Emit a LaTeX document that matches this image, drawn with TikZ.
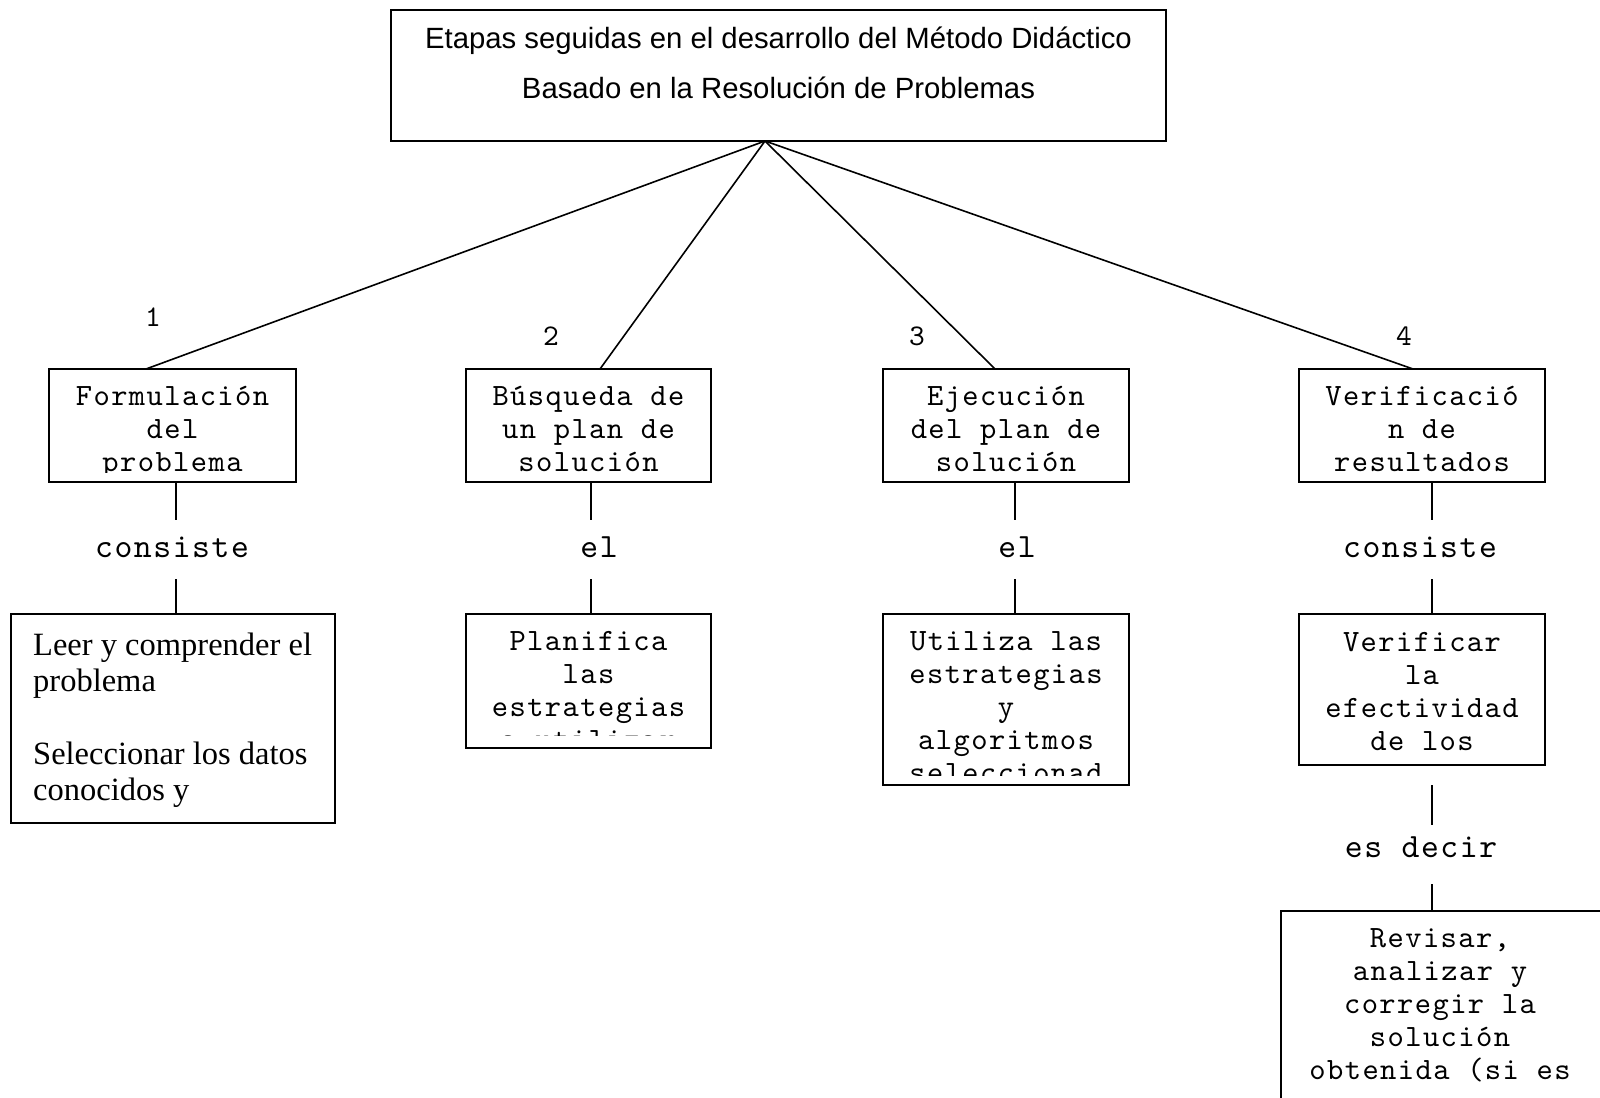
\documentclass[tikz,border=0pt]{standalone}
\usepackage{fontspec}
\setmainfont{Liberation Serif}
\newfontfamily\arialfam{Liberation Sans}
\newfontfamily\courfam{lmmono10-regular.otf}[LetterSpace=4.6]
\begin{document}
\begin{tikzpicture}[x=1pt,y=-1pt,
  frame/.style={draw=black, line width=1.6pt, rectangle, inner sep=0pt, outer sep=0pt, anchor=north west},
  link/.style={draw=black, line width=1.6pt},
  titletxt/.style={font=\arialfam\fontsize{29.3}{35}\selectfont, inner sep=0pt, anchor=base},
  stagetxt/.style={font=\courfam\fontsize{31}{33}\selectfont, inner sep=0pt, anchor=base},
  numtxt/.style={font=\courfam\fontsize{30}{32}\selectfont, inner sep=0pt, anchor=base},
  verbtxt/.style={font=\courfam\fontsize{34}{36}\selectfont, inner sep=0pt, anchor=base},
  serftxt/.style={font=\fontsize{32.5}{36}\selectfont, inner sep=0pt, anchor=base west},
]
\useasboundingbox (0,0) rectangle (1600,1097);
\fill[white] (0,0) rectangle (1600,1097);
\clip (0,0) rectangle (1600,1097);

% ---------- frames ----------
\node[frame, minimum width=775pt, minimum height=131pt] (top) at (391,10) {};
\node[frame, minimum width=247pt, minimum height=113pt] (f1) at (49,369) {};
\node[frame, minimum width=245pt, minimum height=113pt] (f2) at (466,369) {};
\node[frame, minimum width=246pt, minimum height=113pt] (f3) at (883,369) {};
\node[frame, minimum width=246pt, minimum height=113pt] (f4) at (1299,369) {};
\node[frame, minimum width=324pt, minimum height=209pt] (g1) at (11,614) {};
\node[frame, minimum width=245pt, minimum height=134pt] (g2) at (466,614) {};
\node[frame, minimum width=246pt, minimum height=171pt] (g3) at (883,614) {};
\node[frame, minimum width=246pt, minimum height=151pt] (g4) at (1299,614) {};
\node[frame, minimum width=330pt, minimum height=200pt] (h4) at (1281,911) {};

% ---------- title ----------
\node[titletxt] (tt1) at (778.5,48.5) {Etapas seguidas en el desarrollo del Método Didáctico};
\node[titletxt] (tt2) at (778.5,98.5) {Basado en la Resolución de Problemas};

% ---------- stage boxes ----------
\begin{scope}
  \clip ([yshift=-10pt]f1.north west) rectangle ([yshift=10pt]f1.south east);
  \foreach \s [count=\i from 0] in {Formulación, del, problema}
    \node[stagetxt] (f1t\i) at (172.5,{405+33.2*\i}) {\s};
\end{scope}
\begin{scope}
  \clip ([yshift=-10pt]f2.north west) rectangle ([yshift=10pt]f2.south east);
  \foreach \s [count=\i from 0] in {Búsqueda de, un plan de, solución}
    \node[stagetxt] (f2t\i) at (588.5,{405+33.2*\i}) {\s};
\end{scope}
\begin{scope}
  \clip ([yshift=-10pt]f3.north west) rectangle ([yshift=10pt]f3.south east);
  \foreach \s [count=\i from 0] in {Ejecución, del plan de, solución}
    \node[stagetxt] (f3t\i) at (1006,{405+33.2*\i}) {\s};
\end{scope}
\begin{scope}
  \clip ([yshift=-10pt]f4.north west) rectangle ([yshift=10pt]f4.south east);
  \foreach \s [count=\i from 0] in {Verificació, n de, resultados}
    \node[stagetxt] (f4t\i) at (1422,{405+33.2*\i}) {\s};
\end{scope}

% ---------- detail boxes ----------
\begin{scope}
  \clip ([yshift=-10pt]g1.north west) rectangle ([yshift=10pt]g1.south east);
  \node[serftxt] (g1t0) at (33,655) {Leer y comprender el};
  \node[serftxt] (g1t1) at (33,691) {problema};
  \node[serftxt] (g1t2) at (33,764) {Seleccionar los datos};
  \node[serftxt] (g1t3) at (33,800) {conocidos y};
\end{scope}
\begin{scope}
  \clip ([yshift=-10pt]g2.north west) rectangle ([yshift=13pt]g2.south east);
  \foreach \s [count=\i from 0] in {Planifica, las, estrategias, a utilizar}
    \node[stagetxt] (g2t\i) at (588.5,{650+33.2*\i}) {\s};
\end{scope}
\begin{scope}
  \clip ([yshift=-10pt]g3.north west) rectangle ([yshift=10pt]g3.south east);
  \foreach \s [count=\i from 0] in {Utiliza las, estrategias, y, algoritmos, seleccionad}
    \node[stagetxt] (g3t\i) at (1006,{650+33.1*\i}) {\s};
\end{scope}
\begin{scope}
  \clip ([yshift=-10pt]g4.north west) rectangle ([yshift=10pt]g4.south east);
  \foreach \s [count=\i from 0] in {Verificar, la, efectividad, de los}
    \node[stagetxt] (g4t\i) at (1422,{651+33.2*\i}) {\s};
\end{scope}
\foreach \s [count=\i from 0] in {{Revisar,}, analizar y, corregir la, solución, obtenida (si es}
  \node[stagetxt] (h4t\i) at (1440,{947+33.1*\i}) {\s};

% ---------- stage numbers ----------
\node[numtxt] (n1) at (153,326) {1};
\node[numtxt] (n2) at (551,345) {2};
\node[numtxt] (n3) at (917,345) {3};
\node[numtxt] (n4) at (1404,345) {4};

% ---------- links from the title ----------
\draw[link] ([xshift=-13.5pt]top.south) -- ([xshift=97pt]f1.north west);
\draw[link] ([xshift=-13.5pt]top.south) -- ([xshift=134pt]f2.north west);
\draw[link] ([xshift=-13.5pt]top.south) -- ([xshift=112pt]f3.north west);
\draw[link] ([xshift=-13.5pt]top.south) -- ([xshift=114pt]f4.north west);

% ---------- link words ----------
\node[verbtxt] (v1) at (172,557) {consiste};
\node[verbtxt] (v2) at (599,557) {el};
\node[verbtxt] (v3) at (1017,557) {el};
\node[verbtxt] (v4) at (1420,557) {consiste};
\node[verbtxt] (v5) at (1421,857) {es decir};

% ---------- vertical links ----------
\draw[link] ([xshift=3.5pt]f1.south) -- ++(0,38);
\draw[link] ([xshift=3pt]g1.north) -- ++(0,-35);
\draw[link] ([xshift=2.5pt]f2.south) -- ++(0,38);
\draw[link] ([xshift=2.5pt]g2.north) -- ++(0,-35);
\draw[link] ([xshift=9pt]f3.south) -- ++(0,38);
\draw[link] ([xshift=9pt]g3.north) -- ++(0,-35);
\draw[link] ([xshift=10pt]f4.south) -- ++(0,38);
\draw[link] ([xshift=10pt]g4.north) -- ++(0,-35);
\draw[link] ([xshift=10pt,yshift=-20pt]g4.south) -- ++(0,40);
\draw[link] ([xshift=-14pt]h4.north) -- ++(0,-27);
\end{tikzpicture}
\end{document}
